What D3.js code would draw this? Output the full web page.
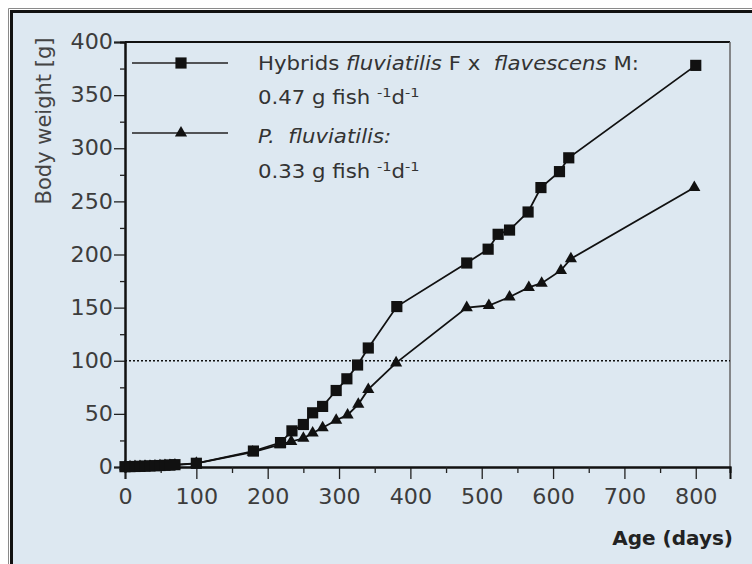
<!DOCTYPE html>
<html><head><meta charset="utf-8">
<script src="https://cdn.jsdelivr.net/npm/d3@7"></script>
<style>body{margin:0;background:#fff}svg{display:block}text{white-space:pre}</style>
</head><body><svg id="c" width="752" height="564"></svg>
<script>
const hybridDays   = [0,7,14,21,28,35,42,49,56,63,70,100,180,218,234,250,263,277,296,311,326,341,381,479,509,523,539,565,583,609,622,800];
const hybridWeight = [0.3,0.4,0.5,0.6,0.8,1,1.2,1.4,1.6,1.8,2.2,3.5,15,23,34,40,51,57,72,83,96,112,151,192,205,219,223,240,263,278,291,378];
const perchDays    = [0,7,14,21,28,35,42,49,56,63,70,100,179,217,233,250,263,277,296,312,327,341,380,479,510,539,566,584,611,625,798];
const perchWeight  = [0.2,0.3,0.4,0.5,0.6,0.8,1,1.1,1.3,1.5,1.8,3.5,14,21,24,27,32,37,44,49,59,73,98,150,152,160,169,173,185,196,263];
const xTicks = [0,100,200,300,400,500,600,700,800];
const xMinor = [50,150,250,350,450,550,650,750];
const yTicks = [0,50,100,150,200,250,300,350,400];
const yMinor = [25,75,125,175,225,275,325,375];
const refLine = 100;

const svg = d3.select("#c");
const bg = "#dde8f1";
const FONT = "DejaVu Sans";

// outer frame
svg.append("rect").attr("x",0).attr("y",0).attr("width",752).attr("height",564).attr("fill","#fff");
svg.append("path").attr("d","M8.5,564V8.5H752").attr("fill","none").attr("stroke","#8a8a8a").attr("stroke-width",1);
svg.append("rect").attr("x",11.5).attr("y",11.5).attr("width",760).attr("height",600)
  .attr("fill",bg).attr("stroke","#111").attr("stroke-width",3);

const x = d3.scaleLinear().domain([0,848]).range([125,730]);
const y = d3.scaleLinear().domain([0,400]).range([467,42]);

// plot box
svg.append("line").attr("x1",x(0)).attr("x2",x(848)).attr("y1",y(400)).attr("y2",y(400)).attr("stroke","#111").attr("stroke-width",2);
svg.append("line").attr("x1",x(848)).attr("x2",x(848)).attr("y1",y(400)).attr("y2",y(0)).attr("stroke","#666").attr("stroke-width",1.5);

// dotted reference line
svg.append("line").attr("x1",x(0)).attr("x2",x(848)).attr("y1",y(refLine)).attr("y2",y(refLine))
  .attr("stroke","#111").attr("stroke-width",1.5).attr("stroke-dasharray","2,2");

// axes
svg.append("g").attr("transform",`translate(0,${y(0)})`)
  .call(d3.axisBottom(x).tickValues(xTicks).tickSize(12).tickPadding(10).tickFormat(d3.format("d")));
svg.append("g").attr("transform",`translate(0,${y(0)})`)
  .call(d3.axisBottom(x).tickValues(xMinor).tickSize(6).tickFormat(""));
svg.append("g").attr("transform",`translate(${x(0)},0)`)
  .call(d3.axisLeft(y).tickValues(yTicks).tickSize(11).tickPadding(1).tickFormat(d3.format("d")));
svg.append("g").attr("transform",`translate(${x(0)},0)`)
  .call(d3.axisLeft(y).tickValues(yMinor).tickSize(5).tickFormat(""));
svg.selectAll(".domain").attr("stroke","#111").attr("stroke-width",2);
svg.selectAll(".tick line").attr("stroke","#222").attr("stroke-width",1.3);
svg.selectAll(".tick text").attr("font-family",FONT).attr("font-size",21).attr("fill","#3c3c3c")
  .attr("transform","scale(1.06,1)").each(function(){
    const t=d3.select(this); const tx=+t.attr("x")||0; t.attr("x",tx/1.06);
  });

// lines & markers
const line = d3.line().x(d=>x(d[0])).y(d=>y(d[1]));
const hyb = hybridDays.map((d,i)=>[d,hybridWeight[i]]);
const per = perchDays.map((d,i)=>[d,perchWeight[i]]);
svg.append("path").datum(per).attr("d",line).attr("fill","none").attr("stroke","#111").attr("stroke-width",1.8);
svg.append("path").datum(hyb).attr("d",line).attr("fill","none").attr("stroke","#111").attr("stroke-width",1.8);
const tri = d3.symbol(d3.symbolTriangle,64)();
const sq = d3.symbol(d3.symbolSquare,125)();
svg.append("g").selectAll("path").data(per).join("path").attr("d",tri)
  .attr("transform",d=>`translate(${x(d[0])},${y(d[1])})`).attr("fill","#111");
svg.append("g").selectAll("path").data(hyb).join("path").attr("d",sq)
  .attr("transform",d=>`translate(${x(d[0])},${y(d[1])})`).attr("fill","#111");

// legend
const lg = svg.append("g");
lg.append("line").attr("x1",132).attr("x2",228).attr("y1",63).attr("y2",63).attr("stroke","#222").attr("stroke-width",1.5);
lg.append("path").attr("d",sq).attr("transform","translate(181,63)").attr("fill","#111");
lg.append("line").attr("x1",132).attr("x2",228).attr("y1",133).attr("y2",133).attr("stroke","#222").attr("stroke-width",1.5);
lg.append("path").attr("d",tri).attr("transform","translate(181,133)").attr("fill","#111");

function rich(yPos, parts){
  const t = lg.append("text").attr("transform",`translate(258,${yPos}) scale(1.12,1)`)
    .attr("font-family",FONT).attr("font-size",19).attr("fill","#333");
  parts.forEach(p=>{
    const s = t.append("tspan").text(p.t);
    if(p.i) s.attr("font-style","italic");
    if(p.sup){ s.attr("font-size",13).attr("dy",-7); }
    if(p.down){ s.attr("dy",7); }
  });
  return t;
}
rich(70,[{t:"Hybrids "},{t:"fluviatilis",i:1},{t:" F x  "},{t:"flavescens",i:1},{t:" M:"}]);
rich(104,[{t:"0.47 g fish "},{t:"-1",sup:1},{t:"d",down:1},{t:"-1",sup:1}]);
rich(143,[{t:"P.  fluviatilis:",i:1}]);
rich(178,[{t:"0.33 g fish "},{t:"-1",sup:1},{t:"d",down:1},{t:"-1",sup:1}]);

// axis titles
svg.append("text").attr("transform","translate(51,121) rotate(-90)").attr("text-anchor","middle")
  .attr("font-family",FONT).attr("font-size",21).attr("fill","#444").text("Body weight [g]");
svg.append("text").attr("x",733).attr("y",545).attr("text-anchor","end")
  .attr("font-family",FONT).attr("font-weight","bold").attr("font-size",20).attr("fill","#222").text("Age (days)");
</script></body></html>
